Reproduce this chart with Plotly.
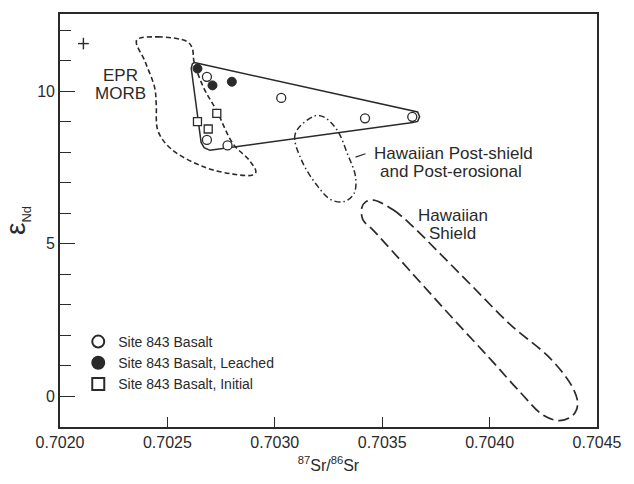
import plotly.graph_objects as go

# ---------------- data ----------------
open_x = [0.702684, 0.70303, 0.70342, 0.70364, 0.702684, 0.70278]
open_y = [10.47, 9.78, 9.11, 9.16, 8.40, 8.22]

leached_x = [0.70264, 0.70271, 0.70280]
leached_y = [10.74, 10.19, 10.31]

initial_x = [0.70264, 0.70269, 0.70273]
initial_y = [9.00, 8.76, 9.27]

# Site 843 field (solid outline)
site_x = [0.702625, 0.703642, 0.703665, 0.703674, 0.703665, 0.703642,
          0.702698, 0.702671, 0.702657, 0.702611, 0.702616, 0.702625]
site_y = [10.94, 9.375, 9.32, 9.16, 9.01, 8.97,
          8.06, 8.15, 8.32, 10.75, 10.89, 10.94]

# EPR MORB field
epr_x = [0.702357, 0.702456, 0.702593, 0.702616, 0.702624, 0.702669, 0.702730,
         0.702806, 0.702882, 0.702912, 0.702897, 0.702806, 0.702669, 0.702517,
         0.702456, 0.702448, 0.702441, 0.702396, 0.702357]
epr_y = [11.67, 11.78, 11.62, 11.40, 10.97, 10.11, 9.35,
         8.27, 7.73, 7.35, 7.25, 7.28, 7.52, 8.11,
         8.70, 9.57, 10.11, 10.97, 11.67]

# Hawaiian post-shield / post-erosional field
post_x = [0.703186, 0.703095, 0.703125, 0.703201, 0.703262, 0.703323, 0.703369,
          0.703376, 0.703338, 0.703292, 0.703232, 0.703186]
post_y = [9.19, 8.60, 7.73, 6.87, 6.44, 6.38, 6.65,
          7.19, 7.95, 8.70, 9.14, 9.19]

# Hawaiian shield field
shield_x = [0.703460, 0.703551, 0.703642, 0.703764, 0.703916, 0.704099, 0.704281,
            0.704387, 0.704410, 0.704387, 0.704327, 0.704249, 0.704144, 0.704007,
            0.703825, 0.703642, 0.703460, 0.703410, 0.703405, 0.703423, 0.703460]
shield_y = [6.43, 6.11, 5.57, 4.71, 3.63, 2.33, 1.25,
            0.28, -0.26, -0.63, -0.80, -0.62, 0.12, 1.19,
            2.58, 4.01, 5.43, 5.79, 6.18, 6.37, 6.43]

# error cross (2 sigma)
err_x = [0.702109]
err_y = [11.56]
err_dx = [0.0000251]
err_dy = [0.19]

# leader line for post-shield label
leader_x = [0.703376, 0.703422]
leader_y = [7.84, 7.95]

x_ticks = [0.7020, 0.7025, 0.7030, 0.7035, 0.7040, 0.7045]
x_ticklabels = ["0.7020", "0.7025", "0.7030", "0.7035", "0.7040", "0.7045"]
y_ticks = [0, 5, 10]

labels = [
    ("EPR", 0.702283, 10.53),
    ("MORB", 0.702283, 9.92),
    ("Hawaiian Post-shield", 0.703830, 7.95),
    ("and Post-erosional", 0.703820, 7.37),
    ("Hawaiian", 0.703829, 5.93),
    ("Shield", 0.703829, 5.32),
]

FONT = "Liberation Sans, Arial, Helvetica, sans-serif"
INK = "#2a2a2a"

fig = go.Figure()

fig.add_trace(go.Scatter(x=epr_x, y=epr_y, mode="lines", line_shape="spline",
                         line=dict(color=INK, width=1.6, dash="5px,3px"),
                         showlegend=False, hoverinfo="skip"))
fig.add_trace(go.Scatter(x=post_x, y=post_y, mode="lines", line_shape="spline",
                         line=dict(color=INK, width=1.5, dash="6px,3px,1.5px,3px"),
                         showlegend=False, hoverinfo="skip"))
fig.add_trace(go.Scatter(x=shield_x, y=shield_y, mode="lines", line_shape="spline",
                         line=dict(color=INK, width=1.7, dash="11px,5px"),
                         showlegend=False, hoverinfo="skip"))
fig.add_trace(go.Scatter(x=site_x, y=site_y, mode="lines",
                         line=dict(color=INK, width=1.5),
                         showlegend=False, hoverinfo="skip"))
fig.add_trace(go.Scatter(x=leader_x, y=leader_y, mode="lines",
                         line=dict(color=INK, width=1.2),
                         showlegend=False, hoverinfo="skip"))
fig.add_trace(go.Scatter(x=err_x, y=err_y, mode="markers",
                         marker=dict(size=1, color=INK),
                         error_x=dict(type="data", array=err_dx, width=0, color=INK, thickness=1.4),
                         error_y=dict(type="data", array=err_dy, width=0, color=INK, thickness=1.4),
                         showlegend=False, hoverinfo="skip"))

fig.add_trace(go.Scatter(x=open_x, y=open_y, mode="markers", name="Site 843 Basalt",
                         marker=dict(symbol="circle", size=9, color="white",
                                     line=dict(color=INK, width=1.3))))
fig.add_trace(go.Scatter(x=leached_x, y=leached_y, mode="markers", name="Site 843 Basalt, Leached",
                         marker=dict(symbol="circle", size=9, color=INK,
                                     line=dict(color=INK, width=1))))
fig.add_trace(go.Scatter(x=initial_x, y=initial_y, mode="markers", name="Site 843 Basalt, Initial",
                         marker=dict(symbol="square", size=8, color="white",
                                     line=dict(color=INK, width=1.3))))

for text, lx, ly in labels:
    fig.add_annotation(x=lx, y=ly, text=text, showarrow=False,
                       font=dict(family=FONT, size=17, color=INK),
                       xanchor="center", yanchor="middle")

fig.update_layout(
    width=634, height=484,
    margin=dict(l=60, r=26, t=12, b=54),
    paper_bgcolor="white", plot_bgcolor="white",
    font=dict(family=FONT, color=INK, size=15),
    legend=dict(x=0.034, y=0.155, xanchor="left", yanchor="middle",
                bgcolor="rgba(0,0,0,0)", font=dict(size=14, color=INK),
                itemsizing="constant"),
    xaxis=dict(range=[0.7020, 0.7045], tickvals=x_ticks, ticktext=x_ticklabels,
               ticks="inside", ticklen=10, tickwidth=1.3, tickcolor=INK,
               showline=True, linecolor=INK, linewidth=1.6, mirror=True,
               showgrid=False, zeroline=False,
               tickfont=dict(size=16, color=INK),
               title=dict(text="<sup>87</sup>Sr/<sup>86</sup>Sr", font=dict(size=16, color=INK),
                          standoff=10)),
    yaxis=dict(range=[-1.01, 12.53], tickvals=y_ticks,
               ticks="inside", ticklen=15, tickwidth=1.3, tickcolor=INK,
               minor=dict(dtick=1, tick0=0, ticks="inside", ticklen=11, tickwidth=1.3, tickcolor=INK),
               showline=True, linecolor=INK, linewidth=1.6, mirror=True,
               showgrid=False, zeroline=False,
               tickfont=dict(size=16, color=INK),
               title=dict(text="ε<sub><span style='font-size:13px'>Nd</span></sub>",
                          font=dict(size=28, color=INK), standoff=4)),
)

fig.write_html("out.html")
